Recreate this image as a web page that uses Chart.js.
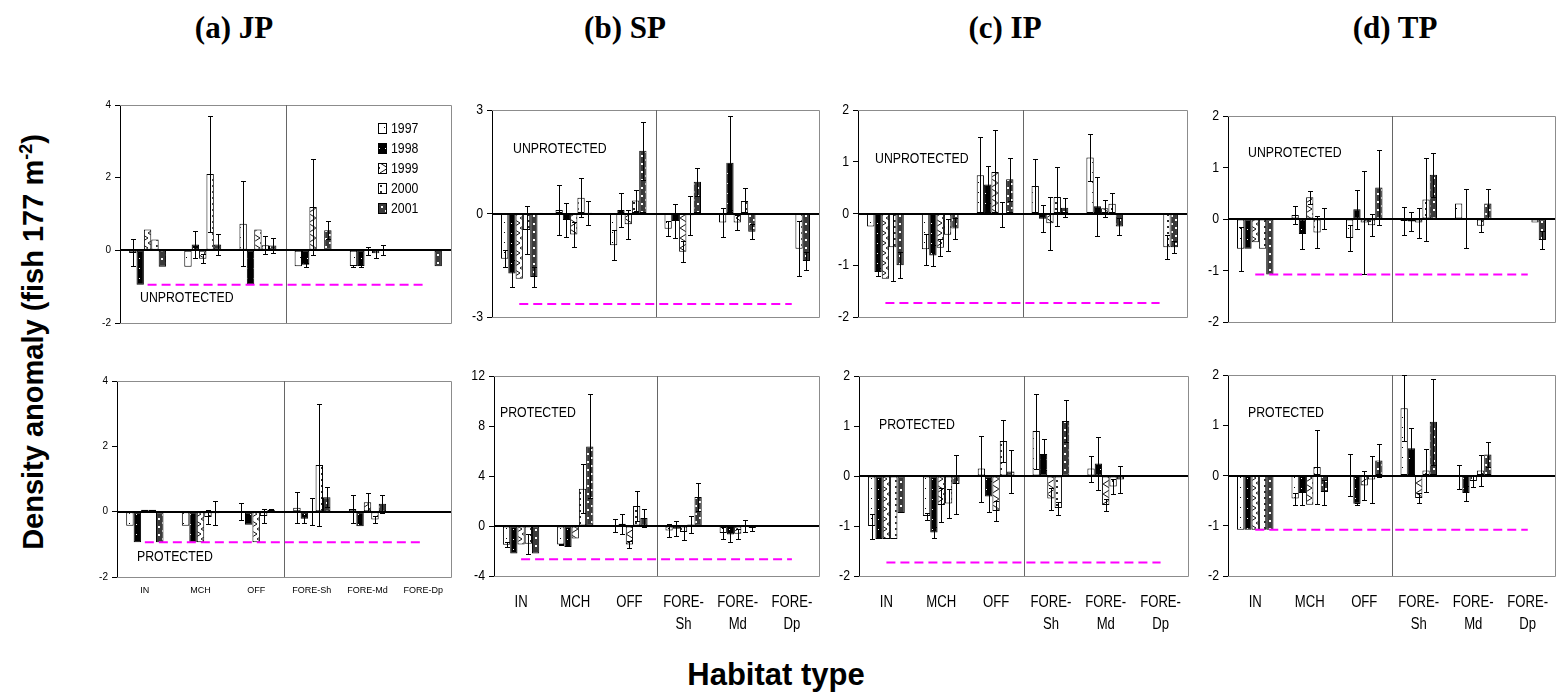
<!DOCTYPE html>
<html>
<head>
<meta charset="utf-8">
<script src="https://cdn.jsdelivr.net/npm/chart.js@4.4.1/dist/chart.umd.min.js"></script>
<style>
  html, body { margin: 0; padding: 0; background: #fff; }
  body { width: 1559px; height: 694px; position: relative; overflow: hidden; }
  canvas { position: absolute; }
  .title { position: absolute; top: 12px; font: bold 31px 'Liberation Serif', 'Times New Roman', serif; line-height: 31px; transform: translateX(-50%); white-space: nowrap; color: #000; }
  .ylab { position: absolute; left: 33px; top: 342px; font: bold 29px 'Liberation Sans', Arial, sans-serif; white-space: nowrap; transform: translate(-50%, -50%) rotate(-90deg); color: #000; }
  .ylab sup { font-size: 18px; }
  .xlab { position: absolute; left: 776px; top: 659px; font: bold 31px 'Liberation Sans', Arial, sans-serif; line-height: 31px; transform: translateX(-50%); white-space: nowrap; color: #000; }
</style>
</head>
<body>
<div class="title" style="left:234px">(a) JP</div>
<div class="title" style="left:625px">(b) SP</div>
<div class="title" style="left:1005px">(c) IP</div>
<div class="title" style="left:1395px">(d) TP</div>
<div class="ylab">Density anomaly (fish 177 m<sup>-2</sup>)</div>
<div class="xlab">Habitat type</div>
<script>
// ---- categories and series ----
const habitats = ['IN', 'MCH', 'OFF', 'FORE-Sh', 'FORE-Md', 'FORE-Dp'];
const habitatsWrapped = ['IN', 'MCH', 'OFF', ['FORE-', 'Sh'], ['FORE-', 'Md'], ['FORE-', 'Dp']];
const years = ['1997', '1998', '1999', '2000', '2001'];

// rows = years, columns = habitats
const jpUnprotMean = [
  [-0.07, -0.45, 0.73, -0.44, -0.43, null],
  [-0.95, 0.16, -0.95, -0.40, -0.43, null],
  [0.57, -0.23, 0.57, 1.19, -0.02, null],
  [0.30, 2.10, 0.14, 0.04, -0.08, null],
  [-0.45, 0.16, 0.13, 0.55, 0.02, -0.44]
];
const jpUnprotErr = [
  [0.37, 0, 1.17, 0, 0.03, 0],
  [0, 0.37, 0, 0.05, 0.04, 0],
  [0, 0.12, 0, 1.33, 0.10, 0],
  [0, 1.60, 0.25, 0, 0.12, 0],
  [0, 0.28, 0.20, 0.25, 0.14, 0]
];
const jpUnprotFloor = -0.95;

const jpProtMean = [
  [-0.43, -0.43, 0.01, 0.12, 0.08, null],
  [-0.94, -0.94, -0.40, -0.22, -0.45, null],
  [0.06, -0.94, -0.94, 0.01, 0.29, null],
  [0.06, -0.16, -0.13, 1.43, -0.24, null],
  [-0.94, -0.05, 0.06, 0.44, 0.24, null]
];
const jpProtErr = [
  [0, 0, 0.26, 0.48, 0.42, 0],
  [0, 0, 0, 0.12, 0, 0],
  [0, 0, 0, 0.41, 0.28, 0],
  [0, 0.22, 0.21, 1.86, 0.10, 0],
  [0, 0.37, 0.02, 0.30, 0.27, 0]
];
const jpProtFloor = -0.94;

const spUnprotMean = [
  [-1.31, 0.10, -0.92, -0.44, -0.26, null],
  [-1.74, -0.19, 0.10, -0.22, 1.47, null],
  [-1.89, -0.61, -0.31, -1.11, -0.26, null],
  [-0.48, 0.46, 0.38, -0.05, 0.36, -1.02],
  [-1.84, 0.02, 1.82, 0.92, -0.53, -1.38]
];
const spUnprotErr = [
  [0.24, 0.72, 0.43, 0.22, 0.43, 0],
  [0.39, 0.50, 0.50, 0.50, 1.36, 0],
  [0, 0.35, 0.42, 0.30, 0.22, 0],
  [0.70, 0.57, 0.30, 0.57, 0.37, 0.80],
  [0.29, 0.35, 0.84, 0.41, 0.22, 0.27]
];
const spUnprotFloor = -2.62;

const spProtMean = [
  [-1.49, -1.47, 0.05, -0.35, -0.56, null],
  [-2.20, -1.68, 0.19, -0.21, -0.67, null],
  [-1.47, -1.00, -1.47, -0.48, -0.61, null],
  [-1.41, 2.99, 1.60, 0.13, 0.02, null],
  [-2.20, 6.37, 0.64, 2.32, -0.16, null]
];
const spProtErr = [
  [0.20, 0.03, 0.50, 0.53, 0.50, 0],
  [0, 0, 0.80, 0.60, 0.60, 0],
  [0, 0, 0.30, 0.60, 0.40, 0],
  [0.80, 1.95, 1.17, 0.66, 0.50, 0],
  [0, 4.16, 0.70, 1.12, 0.25, 0]
];
const spProtFloor = -2.66;

const ipUnprotMean = [
  [-0.25, -0.69, 0.74, 0.53, 1.08, null],
  [-1.13, -0.81, 0.56, -0.10, 0.14, null],
  [-1.26, -0.66, 0.80, -0.19, 0.10, null],
  [-0.65, -0.41, -0.02, 0.32, 0.19, -0.65],
  [-1.00, -0.29, 0.66, 0.11, -0.25, -0.65]
];
const ipUnprotErr = [
  [0, 0.30, 0.73, 0.53, 0.46, 0],
  [0.07, 0.20, 0.36, 0.26, 0.57, 0],
  [0, 0.17, 0.81, 0.51, 0.17, 0],
  [0.65, 0.31, 0.24, 0.57, 0.20, 0.23],
  [0.25, 0.21, 0.42, 0.18, 0.17, 0.12]
];
const ipUnprotFloor = -1.73;

const ipProtMean = [
  [-1.00, -0.80, 0.15, 0.90, 0.15, null],
  [-1.26, -1.13, -0.41, 0.44, 0.25, null],
  [-1.26, -0.58, -0.70, -0.45, -0.58, null],
  [-1.26, -0.55, 0.70, -0.64, -0.21, null],
  [-0.74, -0.16, 0.09, 1.10, -0.07, null]
];
const ipProtErr = [
  [0.25, 0.07, 0.66, 0.75, 0.26, 0],
  [0, 0.11, 0.31, 0.31, 0.53, 0],
  [0, 0.34, 0.20, 0.22, 0.12, 0],
  [0, 0.29, 0.42, 0.13, 0.15, 0],
  [0, 0.59, 0.43, 0.42, 0.27, 0]
];
const ipProtFloor = -1.73;

const tpUnprotMean = [
  [-0.58, 0.08, -0.37, -0.04, 0.30, null],
  [-0.58, -0.29, 0.19, -0.05, 0.01, null],
  [-0.45, 0.42, -0.07, -0.07, null, null],
  [-0.58, -0.26, -0.12, 0.38, -0.13, -0.07],
  [-1.08, 0.01, 0.61, 0.86, 0.30, -0.41]
];
const tpUnprotErr = [
  [0.43, 0.17, 0.26, 0.28, 0, 0],
  [0, 0.29, 0.38, 0.18, 0.58, 0],
  [0, 0.12, 1.00, 0.29, 0, 0],
  [0, 0.31, 0.21, 0.81, 0.13, 0],
  [0, 0.20, 0.73, 0.43, 0.28, 0.17]
];
const tpUnprotFloor = -1.08;

const tpProtMean = [
  [-1.08, -0.46, 0.01, 1.34, -0.03, null],
  [-1.08, -0.35, -0.56, 0.54, -0.35, null],
  [-1.08, -0.58, -0.20, -0.45, -0.11, null],
  [-1.08, 0.17, -0.08, 0.10, 0.10, null],
  [-1.08, -0.33, 0.30, 1.07, 0.42, null]
];
const tpProtErr = [
  [0, 0.12, 0.41, 0.66, 0.24, 0],
  [0, 0.23, 0.02, 0.40, 0.15, 0],
  [0, 0, 0.28, 0.10, 0.12, 0],
  [0, 0.73, 0.47, 0.43, 0.30, 0],
  [0, 0.25, 0.32, 0.86, 0.25, 0]
];
const tpProtFloor = -1.08;

// ---- text helpers ----
const plainFamily = "'Liberation Sans',Arial,sans-serif";
const NARROW = 0.82;

// draws text squeezed horizontally, like a condensed face
function drawText(ctx, text, x, y, size, align, squeeze) {
  ctx.save();
  ctx.font = size + 'px ' + plainFamily;
  ctx.fillStyle = '#000';
  ctx.textBaseline = 'middle';
  ctx.textAlign = align;
  ctx.translate(x, y);
  ctx.scale(squeeze, 1);
  ctx.fillText(text, 0, 0);
  ctx.restore();
}

// ---- fill patterns, one per year ----
function makePattern(kind) {
  const c = document.createElement('canvas');
  const g = c.getContext('2d');
  if (kind === 0) {
    c.width = 6; c.height = 10;
    g.fillStyle = '#fff'; g.fillRect(0, 0, 6, 10);
    g.fillStyle = '#000'; g.fillRect(2, 4, 1, 1);
  } else if (kind === 1) {
    c.width = 6; c.height = 10;
    g.fillStyle = '#000'; g.fillRect(0, 0, 6, 10);
    g.fillStyle = '#fff'; g.fillRect(3, 5, 1, 1);
  } else if (kind === 2) {
    c.width = 8; c.height = 10;
    g.fillStyle = '#fff'; g.fillRect(0, 0, 8, 10);
    g.strokeStyle = '#111'; g.lineWidth = 1;
    g.beginPath();
    g.moveTo(0, 0); g.lineTo(8, 5); g.lineTo(0, 10);
    g.stroke();
  } else if (kind === 3) {
    c.width = 7; c.height = 6;
    g.fillStyle = '#fff'; g.fillRect(0, 0, 7, 6);
    g.fillStyle = '#2a2a2a'; g.fillRect(3, 2, 2, 2);
  } else {
    c.width = 8; c.height = 8;
    g.fillStyle = '#3a3a3a'; g.fillRect(0, 0, 8, 8);
    g.fillStyle = '#fff';
    g.fillRect(1, 1, 2, 2); g.fillRect(5, 5, 2, 2);
  }
  return g.createPattern(c, 'repeat');
}
const patterns = years.map((_, i) => makePattern(i));

// ---- zero line and error bars drawn over the bars ----
const errorBarPlugin = {
  id: 'errorBars',
  afterDatasetsDraw(chart) {
    const { ctx, chartArea } = chart;
    const yScale = chart.scales.y;
    ctx.save();
    ctx.beginPath();
    ctx.rect(chartArea.left, chartArea.top - 1, chartArea.width, chartArea.height + 2);
    ctx.clip();
    const y0 = Math.round(yScale.getPixelForValue(0));
    ctx.strokeStyle = '#000';
    ctx.lineWidth = 2;
    ctx.beginPath();
    ctx.moveTo(chartArea.left, y0);
    ctx.lineTo(chartArea.right, y0);
    ctx.stroke();
    ctx.lineWidth = 1;
    chart.data.datasets.forEach((ds, di) => {
      if (!ds.errors) return;
      const meta = chart.getDatasetMeta(di);
      meta.data.forEach((bar, i) => {
        const v = ds.data[i], e = ds.errors[i];
        if (v == null || !e) return;
        const x = Math.round(bar.x) + 0.5;
        const hi = Math.round(yScale.getPixelForValue(v + e)) + 0.5;
        const lo = Math.round(yScale.getPixelForValue(v - e)) + 0.5;
        ctx.beginPath();
        ctx.moveTo(x, hi); ctx.lineTo(x, lo);
        ctx.moveTo(x - 2.5, hi); ctx.lineTo(x + 2.5, hi);
        ctx.moveTo(x - 2.5, lo); ctx.lineTo(x + 2.5, lo);
        ctx.stroke();
      });
    });
    ctx.restore();
  }
};

// ---- frame, divider, axis labels, panel note and legend ----
const decorPlugin = {
  id: 'decor',
  beforeDatasetsDraw(chart) {
    const { ctx, chartArea: a } = chart;
    ctx.save();
    ctx.strokeStyle = '#8c8c8c';
    ctx.lineWidth = 1;
    ctx.beginPath();
    ctx.moveTo(a.left, Math.round(a.top) + 0.5);
    ctx.lineTo(Math.round(a.right) + 0.5, Math.round(a.top) + 0.5);
    ctx.lineTo(Math.round(a.right) + 0.5, Math.round(a.bottom) + 0.5);
    ctx.lineTo(a.left, Math.round(a.bottom) + 0.5);
    ctx.stroke();
    const mid = Math.round((a.left + a.right) / 2) + 0.5;
    ctx.strokeStyle = '#666';
    ctx.beginPath();
    ctx.moveTo(mid, a.top);
    ctx.lineTo(mid, a.bottom);
    ctx.stroke();
    ctx.restore();
  },
  afterDraw(chart, args, opts) {
    const { ctx, chartArea: a } = chart;
    const xs = chart.scales.x, ys = chart.scales.y;
    // value axis labels
    ys.ticks.forEach(t => {
      const py = ys.getPixelForValue(t.value);
      if (opts.small) drawText(ctx, String(t.value), a.left - 9, py, 10, 'right', 1);
      else drawText(ctx, String(t.value), a.left - 9, py, 15, 'right', NARROW);
    });
    // category labels
    if (opts.showCats) {
      chart.data.labels.forEach((lab, i) => {
        const px = xs.getPixelForValue(i);
        const lines = Array.isArray(lab) ? lab : [lab];
        lines.forEach((ln, k) => {
          if (opts.small) drawText(ctx, ln, px, a.bottom + 14 + k * 11, 9, 'center', 1);
          else drawText(ctx, ln, px, a.bottom + 27 + k * 22, 16, 'center', NARROW);
        });
      });
    }
    if (opts.note) drawText(ctx, opts.note, a.left + opts.noteAt[0], a.top + opts.noteAt[1], 15, 'left', NARROW);
    if (opts.legend) {
      chart.data.datasets.forEach((ds, i) => {
        if (!ds.errors) return;
        const cy = Math.round(a.top + opts.legendAt[1] + i * 20);
        const sx = Math.round(a.left + opts.legendAt[0]);
        ctx.save();
        ctx.fillStyle = ds.backgroundColor;
        ctx.fillRect(sx, cy - 5, 8, 10);
        ctx.strokeStyle = '#000';
        ctx.lineWidth = 1;
        ctx.strokeRect(sx + 0.5, cy - 4.5, 8, 10);
        ctx.restore();
        drawText(ctx, ds.label, sx + 13, cy + 1, 15, 'left', NARROW);
      });
    }
  }
};

const Y_AXIS_W = 44, PAD_T = 12, PAD_R = 10;

function buildPanel(p) {
  const [l, t, r, b] = p.rect;
  const xh = p.labels ? (p.small ? 24 : 62) : 12;
  const w = (r - l) + Y_AXIS_W + PAD_R;
  const h = (b - t) + PAD_T + xh;
  const canvas = document.createElement('canvas');
  canvas.width = w; canvas.height = h;
  canvas.style.left = (l - Y_AXIS_W) + 'px';
  canvas.style.top = (t - PAD_T) + 'px';
  canvas.style.width = w + 'px';
  canvas.style.height = h + 'px';
  document.body.appendChild(canvas);

  const datasets = years.map((yr, i) => ({
    type: 'bar',
    label: yr,
    data: p.mean[i],
    errors: p.err[i],
    backgroundColor: patterns[i],
    borderColor: '#000',
    borderWidth: 1,
    borderSkipped: false,
    categoryPercentage: 0.67,
    barPercentage: 1.0,
    order: 2
  }));
  datasets.push({
    type: 'line',
    label: 'floor',
    data: habitats.map(() => p.floor),
    borderColor: '#ff00ff',
    borderWidth: 2,
    borderDash: [9, 5],
    pointRadius: 0,
    fill: false,
    order: 1
  });

  new Chart(canvas, {
    type: 'bar',
    data: { labels: p.labels || habitats, datasets },
    options: {
      responsive: false,
      animation: false,
      devicePixelRatio: 1,
      layout: { padding: { left: 0, top: PAD_T, right: PAD_R, bottom: 0 } },
      plugins: {
        legend: { display: false },
        tooltip: { enabled: false },
        decor: {
          small: !!p.small, showCats: !!p.labels,
          note: p.note, noteAt: p.noteAt, legend: !!p.legend, legendAt: [258, 23]
        }
      },
      scales: {
        x: {
          offset: true,
          grid: { display: false, drawTicks: false },
          border: { display: false },
          ticks: { display: false },
          afterFit(scale) { scale.height = xh; }
        },
        y: {
          min: p.y[0],
          max: p.y[1],
          ticks: { stepSize: p.y[2], display: false },
          grid: { drawOnChartArea: false, drawTicks: true, tickLength: 5, tickColor: '#000' },
          border: { display: true, color: '#000', width: 1 },
          afterFit(scale) { scale.width = Y_AXIS_W; }
        }
      }
    },
    plugins: [decorPlugin, errorBarPlugin]
  });
}

const panels = [
  { rect: [120, 105, 451, 323], y: [-2, 4, 2], small: true, labels: null,
    mean: jpUnprotMean, err: jpUnprotErr, floor: jpUnprotFloor, note: 'UNPROTECTED', noteAt: [20, 193], legend: true },
  { rect: [117, 381, 451, 577], y: [-2, 4, 2], small: true, labels: habitats,
    mean: jpProtMean, err: jpProtErr, floor: jpProtFloor, note: 'PROTECTED', noteAt: [20, 176] },
  { rect: [492, 110, 819, 317], y: [-3, 3, 3], labels: null,
    mean: spUnprotMean, err: spUnprotErr, floor: spUnprotFloor, note: 'UNPROTECTED', noteAt: [21, 39] },
  { rect: [494, 376, 819, 576], y: [-4, 12, 4], labels: habitatsWrapped,
    mean: spProtMean, err: spProtErr, floor: spProtFloor, note: 'PROTECTED', noteAt: [6, 37] },
  { rect: [858, 110, 1187, 317], y: [-2, 2, 1], labels: null,
    mean: ipUnprotMean, err: ipUnprotErr, floor: ipUnprotFloor, note: 'UNPROTECTED', noteAt: [17, 49] },
  { rect: [859, 376, 1188, 576], y: [-2, 2, 1], labels: habitatsWrapped,
    mean: ipProtMean, err: ipProtErr, floor: ipProtFloor, note: 'PROTECTED', noteAt: [20, 49] },
  { rect: [1228, 116, 1555, 322], y: [-2, 2, 1], labels: null,
    mean: tpUnprotMean, err: tpUnprotErr, floor: tpUnprotFloor, note: 'UNPROTECTED', noteAt: [20, 37] },
  { rect: [1228, 375, 1555, 576], y: [-2, 2, 1], labels: habitatsWrapped,
    mean: tpProtMean, err: tpProtErr, floor: tpProtFloor, note: 'PROTECTED', noteAt: [20, 38] }
];

panels.forEach(buildPanel);
</script>
</body>
</html>
